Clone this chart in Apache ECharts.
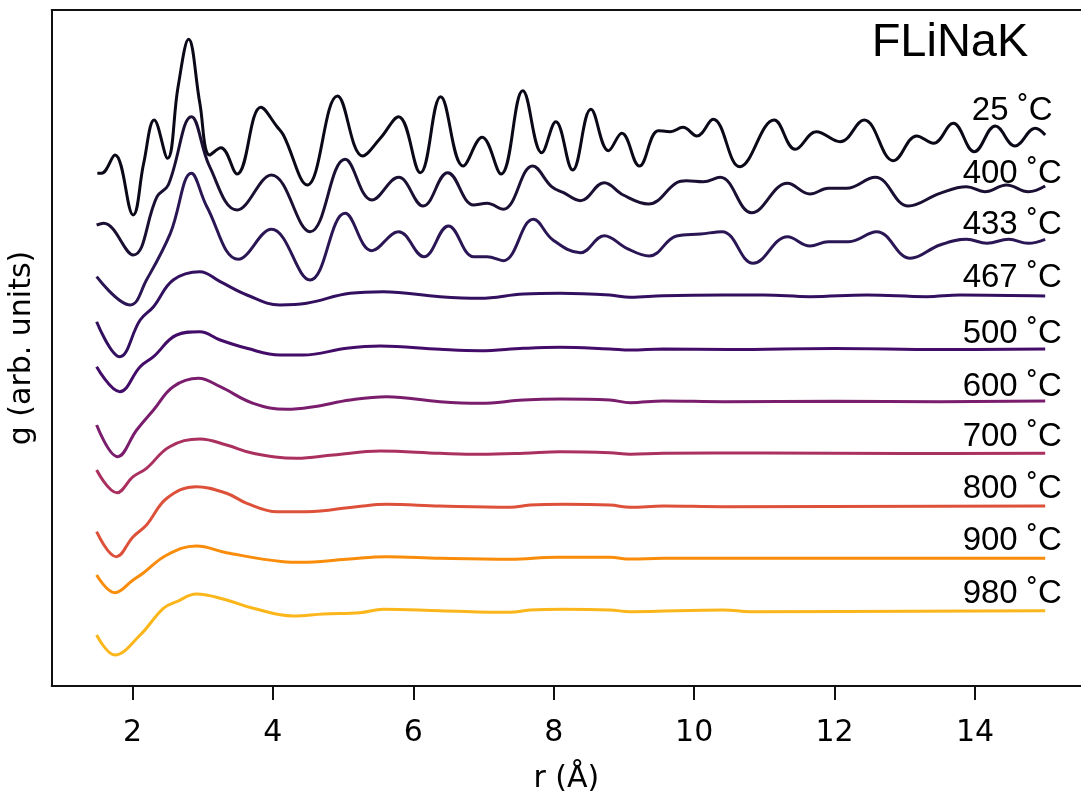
<!DOCTYPE html>
<html>
<head>
<meta charset="utf-8">
<script src="https://cdn.jsdelivr.net/npm/echarts@6/dist/echarts.min.js"></script>
<style>
  html, body { margin: 0; padding: 0; background: #fff; }
  #chart { width: 1081px; height: 792px; }
</style>
</head>
<body>
<div id="chart"></div>
<script>
// g(r) curves, stacked with offsets (arb. units)
const r25 = [1.50, 1.56, 1.75, 2.01, 2.16, 2.31, 2.50, 2.65, 2.80, 2.96, 3.10, 3.26, 3.49, 3.83, 4.06, 4.15, 4.49, 4.92, 5.28, 5.53, 5.79, 6.10, 6.39, 6.71, 6.98, 7.25, 7.56, 7.83, 8.03, 8.27, 8.53, 8.78, 8.97, 9.22, 9.49, 9.66, 9.84, 10.04, 10.27, 10.65, 11.14, 11.44, 11.74, 12.08, 12.42, 12.84, 13.17, 13.41, 13.69, 13.99, 14.29, 14.57, 14.86, 15.00];
const g25 = [512.7, 512.7, 531, 471, 522.7, 566, 527.7, 599.3, 646.7, 582.7, 531, 538.3, 512, 578.7, 559.3, 551, 501, 590, 530, 547.7, 569.3, 513.3, 589.3, 520, 548.7, 512, 595.3, 533.3, 564.3, 516, 576.7, 535.3, 552.7, 520, 555.3, 554.3, 558.7, 550, 566.7, 519.3, 566, 536.7, 554.3, 544.3, 566, 525.3, 550, 542.7, 562.7, 534.3, 560, 540, 557.7, 551];

const r400 = [1.49, 1.59, 2.01, 2.35, 2.51, 2.84, 3.10, 3.49, 3.98, 4.53, 5.03, 5.41, 5.79, 6.14, 6.49, 6.86, 7.05, 7.28, 7.70, 7.97, 8.14, 8.38, 8.72, 8.99, 9.35, 9.75, 9.89, 10.13, 10.37, 10.82, 11.33, 11.65, 11.91, 12.17, 12.58, 13.05, 13.50, 13.88, 14.14, 14.45, 14.76, 15.00];
const g400 = [461, 462.7, 431, 489.3, 501, 569.3, 519.3, 476, 511, 454.3, 526.7, 486, 508.7, 480, 513.3, 481, 482.7, 476.7, 520, 499.3, 493.3, 485.3, 503.3, 491, 482, 503.3, 505.3, 504.3, 508.7, 473.3, 502.7, 492, 497.7, 497.7, 508.7, 480, 492.7, 499.3, 494.3, 501, 494.3, 500];

const r433 = [1.49, 1.97, 2.20, 2.54, 2.84, 3.06, 3.51, 3.98, 4.53, 5.03, 5.41, 5.79, 6.15, 6.50, 6.86, 7.05, 7.28, 7.71, 7.99, 8.38, 8.72, 9.04, 9.36, 9.75, 10.09, 10.40, 10.84, 11.33, 11.65, 11.91, 12.20, 12.60, 13.08, 13.50, 13.88, 14.17, 14.48, 14.76, 15.00];
const g433 = [409.3, 381, 406, 452.7, 512.7, 479.3, 426.7, 456.7, 406, 472.7, 435.3, 454.3, 429.3, 460, 429.3, 429.3, 425.3, 466.7, 446, 433.3, 450.3, 437.7, 430, 450, 452, 454.3, 422.7, 449.3, 440, 444.3, 444.3, 454.3, 427.7, 441, 446.7, 442.7, 446.7, 442.7, 446.7];

const r467 = [1.49, 1.82, 2.11, 2.30, 2.58, 2.96, 3.25, 3.63, 4.10, 4.48, 5.10, 5.57, 6.38, 6.95, 7.57, 8.09, 8.80, 9.09, 9.56, 10.42, 10.99, 11.65, 12.46, 13.31, 13.79, 15.00];
const g467 = [364.3, 329.3, 366, 379.3, 406, 414.3, 404.3, 391, 381, 382.7, 392.7, 394.3, 389.3, 387.7, 392, 392.7, 391, 388.7, 390.3, 391, 391, 389.3, 391, 389.3, 391, 390];

const r500 = [1.49, 1.82, 2.11, 2.30, 2.63, 2.96, 3.25, 3.63, 4.10, 4.43, 5.05, 5.53, 6.38, 6.95, 7.57, 8.09, 8.80, 9.09, 9.56, 10.50, 12.00, 13.50, 15.00];
const g500 = [319.3, 294.3, 319.3, 329.3, 351, 354.3, 346, 337.7, 331, 331, 337.7, 340, 336.7, 335.3, 337.7, 338.7, 337, 336, 337, 336.5, 337.5, 336.5, 337];

const r600 = [1.49, 1.79, 2.06, 2.30, 2.58, 2.94, 3.25, 3.72, 4.20, 4.58, 5.10, 5.62, 6.38, 6.95, 7.57, 8.09, 8.80, 9.09, 9.56, 10.42, 12.00, 13.50, 15.00];
const g600 = [261, 229.3, 256, 276, 299.3, 307.7, 299.3, 282.7, 276.7, 279.3, 286, 289.3, 284.3, 282.7, 286, 287, 286, 283.3, 285, 284.3, 284.7, 284.3, 285];

const r700 = [1.49, 1.78, 2.01, 2.20, 2.53, 2.96, 3.34, 3.72, 4.34, 4.86, 5.53, 6.38, 6.95, 7.57, 8.09, 8.80, 9.09, 9.56, 11.00, 13.00, 15.00];
const g700 = [216, 193.3, 209.3, 217.7, 239.3, 247, 241, 232.7, 227.7, 231, 235, 232.7, 231.7, 232.7, 234.3, 233.3, 231.7, 232.7, 233, 232.5, 232.7];

const r800 = [1.49, 1.77, 2.01, 2.20, 2.49, 2.91, 3.34, 3.63, 4.06, 4.48, 5.19, 5.62, 6.38, 7.38, 7.66, 8.14, 8.80, 9.09, 9.56, 10.42, 15.00];
const g800 = [154.3, 129.3, 149.3, 161, 187.7, 199.3, 192.7, 182.7, 174.3, 174.3, 179.3, 181.7, 180, 178.7, 181, 181.7, 181, 178.7, 180, 179.3, 180];

const r900 = [1.49, 1.75, 2.01, 2.15, 2.49, 2.91, 3.34, 4.15, 4.39, 5.05, 5.62, 6.38, 7.38, 8.04, 8.80, 9.09, 9.56, 15.00];
const g900 = [111, 93.3, 106, 112.7, 131, 140, 133.3, 124.3, 123.7, 126.7, 129.3, 127.7, 126.7, 128.7, 128.7, 127, 127.7, 127.7];

const r980 = [1.49, 1.75, 2.11, 2.44, 2.63, 2.91, 3.34, 3.72, 4.29, 4.72, 5.24, 5.57, 6.38, 7.38, 7.66, 8.14, 8.80, 9.09, 10.42, 10.80, 15.00];
const g980 = [51, 31, 51, 77.7, 84.3, 92, 86, 77.7, 70, 72, 73.3, 76.7, 75.3, 73.7, 76, 76.7, 76, 74.3, 76, 74.3, 75.3];

const temps = ['25 ˚C', '400 ˚C', '433 ˚C', '467 ˚C', '500 ˚C', '600 ˚C', '700 ˚C', '800 ˚C', '900 ˚C', '980 ˚C'];
const labelR = [14.53, 14.53, 14.53, 14.53, 14.53, 14.53, 14.53, 14.53, 14.53, 14.53];
const labelG = [575.5, 512, 461.5, 408, 352, 299, 249, 197, 145, 92];
const xTicks = [2, 4, 6, 8, 10, 12, 14];

const colors = ['#0b0918', '#1b1033', '#2a1654', '#33105f', '#430c69', '#7a1d6d', '#aa3060', '#dd513a', '#f98c0a', '#fbb61c'];

const curves = [
    [r25, g25], [r400, g400], [r433, g433], [r467, g467], [r500, g500],
    [r600, g600], [r700, g700], [r800, g800], [r900, g900], [r980, g980]
];

const chart = echarts.init(document.getElementById('chart'));

const lineSeries = curves.map((c, i) => ({
    type: 'line',
    name: temps[i],
    data: c[0].map((x, j) => [x, c[1][j]]),
    smooth: 0.4,
    showSymbol: false,
    silent: true,
    lineStyle: { width: 3, color: colors[i] },
    itemStyle: { color: colors[i] },
    z: 2
}));

const spine = { color: '#111', width: 2 };

chart.setOption({
    animation: false,
    grid: {
        left: 51.7,
        top: 10,
        bottom: 106,
        right: 0,
        outerBoundsMode: 'none'
    },
    graphic: [{
        type: 'text',
        x: 950,
        y: 43,
        style: {
            text: 'FLiNaK',
            font: '47px "Liberation Sans", Arial, sans-serif',
            fill: '#000',
            textAlign: 'center',
            textVerticalAlign: 'middle'
        }
    }],
    xAxis: [{
        type: 'value',
        min: 0.85,
        max: 15.51,
        name: 'r (Å)',
        nameLocation: 'middle',
        nameGap: 78,
        nameTextStyle: { fontFamily: 'DejaVu Sans', fontSize: 30, color: '#000' },
        axisLine: { show: true, lineStyle: spine },
        axisTick: { show: true, customValues: xTicks, length: 14, lineStyle: spine },
        axisLabel: { customValues: xTicks, fontFamily: 'DejaVu Sans', fontSize: 30, color: '#000', margin: 32 },
        splitLine: { show: false }
    }, {
        type: 'value',
        position: 'top',
        min: 0.85,
        max: 15.51,
        axisLine: { show: true, lineStyle: spine },
        axisTick: { show: false },
        axisLabel: { show: false },
        splitLine: { show: false }
    }],
    yAxis: {
        type: 'value',
        min: 0,
        max: 676,
        name: 'g (arb. units)',
        nameLocation: 'middle',
        nameGap: 14,
        nameTextStyle: { fontFamily: 'DejaVu Sans', fontSize: 30, color: '#000' },
        axisLine: { show: true, lineStyle: spine },
        axisTick: { show: false },
        axisLabel: { show: false },
        splitLine: { show: false }
    },
    series: lineSeries.concat([{
        type: 'scatter',
        name: 'labels',
        silent: true,
        symbolSize: 1,
        itemStyle: { color: 'rgba(0,0,0,0)' },
        data: labelR.map((x, i) => [x, labelG[i]]),
        label: {
            show: true,
            position: 'inside',
            formatter: p => temps[p.dataIndex],
            fontFamily: '"Liberation Sans", Arial, sans-serif',
            fontSize: 33,
            color: '#000',
            opacity: 1,
            textBorderWidth: 0
        },
        z: 5
    }])
});
</script>
</body>
</html>
